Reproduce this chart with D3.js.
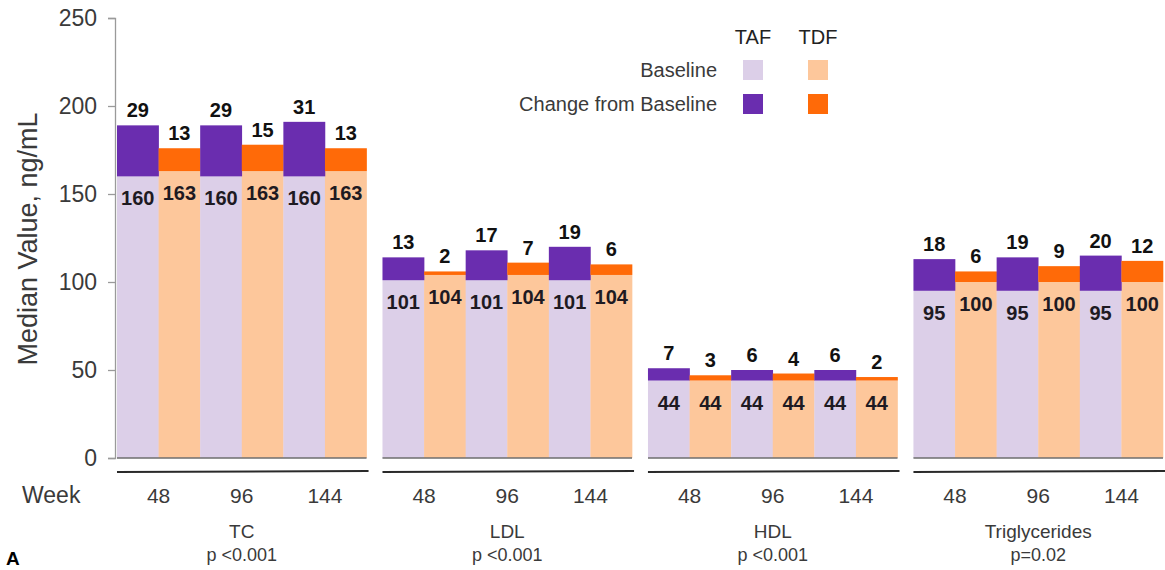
<!DOCTYPE html>
<html>
<head>
<meta charset="utf-8">
<script src="https://cdn.jsdelivr.net/npm/d3@7"></script>
<style>
  html, body { margin: 0; padding: 0; background: #fff; }
  svg { display: block; font-family: "Liberation Sans", Arial, sans-serif; }
</style>
</head>
<body>
<svg id="chart" width="1165" height="570"></svg>
<script>
// Lipid panels, median values at baseline and change from baseline
const panels = ["TC", "LDL", "HDL", "Triglycerides"];
const pValues = ["p <0.001", "p <0.001", "p <0.001", "p=0.02"];
const weeks = ["48", "96", "144"];
const arms = ["TAF", "TDF"];
const tafBaseline = [160, 101, 44, 95];
const tdfBaseline = [163, 104, 44, 100];
const tafChange = [[29, 29, 31], [13, 17, 19], [7, 6, 6], [18, 19, 20]];
const tdfChange = [[13, 15, 13], [2, 7, 6], [3, 4, 2], [6, 9, 12]];
const yTicks = [0, 50, 100, 150, 200, 250];

const colors = {
  TAF: { base: "#dccfe8", change: "#6a2daf" },
  TDF: { base: "#fdc79b", change: "#ff6a08" }
};

const svg = d3.select("#chart");

const y = d3.scaleLinear().domain([0, 250]).range([458, 18]);
const xPanel = d3.scaleBand().domain(panels).range([117, 1163]).paddingInner(0.06);
const xWeek = d3.scaleBand().domain(weeks).range([0, xPanel.bandwidth()]);
const xArm = d3.scaleBand().domain(arms).range([0, xWeek.bandwidth()]);

// flatten into one record per bar
const bars = [];
panels.forEach((p, pi) => {
  weeks.forEach((w, wi) => {
    bars.push({ panel: p, week: w, arm: "TAF", base: tafBaseline[pi], change: tafChange[pi][wi] });
    bars.push({ panel: p, week: w, arm: "TDF", base: tdfBaseline[pi], change: tdfChange[pi][wi] });
  });
});
const barX = d => xPanel(d.panel) + xWeek(d.week) + xArm(d.arm);

// y axis
const yAxis = svg.append("g")
  .attr("transform", "translate(115,0)")
  .call(d3.axisLeft(y).tickValues(yTicks).tickSize(7).tickPadding(11));
yAxis.select(".domain").attr("stroke", "#9a9a9a").attr("stroke-width", 1.3);
yAxis.selectAll(".tick line").attr("stroke", "#9a9a9a").attr("stroke-width", 1.3);
yAxis.selectAll(".tick text")
  .attr("fill", "#3a3a3a")
  .style("font-size", "23px")
  .style("font-family", "'Liberation Sans', Arial, sans-serif");

svg.append("text")
  .attr("transform", "translate(37,239) rotate(-90)")
  .attr("text-anchor", "middle")
  .attr("fill", "#3a3a3a")
  .style("font-size", "27px")
  .text("Median Value, ng/mL");

const g = svg.append("g");

// baseline segments
g.selectAll("rect.base").data(bars).join("rect")
  .attr("class", "base")
  .attr("x", barX)
  .attr("width", xArm.bandwidth() + 0.3)
  .attr("y", d => y(d.base))
  .attr("height", d => y(0) - y(d.base))
  .attr("fill", d => colors[d.arm].base);

// change-from-baseline segments stacked on top
g.selectAll("rect.change").data(bars).join("rect")
  .attr("class", "change")
  .attr("x", barX)
  .attr("width", xArm.bandwidth() + 0.3)
  .attr("y", d => y(d.base + d.change))
  .attr("height", d => y(d.base) - y(d.base + d.change))
  .attr("fill", d => colors[d.arm].change);

// change values above each bar
g.selectAll("text.change").data(bars).join("text")
  .attr("class", "change")
  .attr("x", d => barX(d) + xArm.bandwidth() / 2)
  .attr("y", d => y(d.base + d.change) - 8)
  .attr("text-anchor", "middle")
  .attr("fill", "#111")
  .style("font-size", "20px")
  .style("font-weight", "bold")
  .text(d => d.change);

// baseline values just inside each bar
g.selectAll("text.base").data(bars).join("text")
  .attr("class", "base")
  .attr("x", d => barX(d) + xArm.bandwidth() / 2)
  .attr("y", d => y(d.base) + 29)
  .attr("text-anchor", "middle")
  .attr("fill", "#1e1a22")
  .style("font-size", "20px")
  .style("font-weight", "bold")
  .text(d => d.base);

// per-panel zero line, divider rule and labels
panels.forEach((p, pi) => {
  const x0 = xPanel(p), x1 = x0 + xPanel.bandwidth();
  svg.append("line")
    .attr("x1", x0).attr("x2", x1)
    .attr("y1", y(0)).attr("y2", y(0))
    .attr("stroke", "#6e6e6e").attr("stroke-width", 1.5);
  svg.append("line")
    .attr("x1", x0).attr("x2", x1 + 2)
    .attr("y1", 472).attr("y2", 471)
    .attr("stroke", "#2a2a2a").attr("stroke-width", 2);
  weeks.forEach(w => {
    svg.append("text")
      .attr("x", x0 + xWeek(w) + xWeek.bandwidth() / 2)
      .attr("y", 503)
      .attr("text-anchor", "middle")
      .attr("fill", "#3a3a3a")
      .style("font-size", "21px")
      .text(w);
  });
  const cx = x0 + xPanel.bandwidth() / 2;
  svg.append("text")
    .attr("x", cx).attr("y", 538)
    .attr("text-anchor", "middle")
    .attr("fill", "#3a3a3a")
    .style("font-size", "19px")
    .text(p);
  svg.append("text")
    .attr("x", cx).attr("y", 561)
    .attr("text-anchor", "middle")
    .attr("fill", "#3a3a3a")
    .style("font-size", "18px")
    .text(pValues[pi]);
});

svg.append("text")
  .attr("x", 22).attr("y", 503)
  .attr("fill", "#3a3a3a")
  .style("font-size", "23px")
  .text("Week");

svg.append("text")
  .attr("x", 6).attr("y", 565)
  .attr("fill", "#000")
  .style("font-size", "19px")
  .style("font-weight", "bold")
  .text("A");

// legend
const legendRows = [
  { label: "Baseline", key: "base", y: 60 },
  { label: "Change from Baseline", key: "change", y: 94 }
];
const legendCols = [{ arm: "TAF", x: 753 }, { arm: "TDF", x: 818 }];
const legend = svg.append("g");
legendCols.forEach(c => {
  legend.append("text")
    .attr("x", c.x).attr("y", 44)
    .attr("text-anchor", "middle")
    .attr("fill", "#222")
    .style("font-size", "20px")
    .text(c.arm);
});
legendRows.forEach(r => {
  legend.append("text")
    .attr("x", 717).attr("y", r.y + 17)
    .attr("text-anchor", "end")
    .attr("fill", "#3a3a3a")
    .style("font-size", "20px")
    .text(r.label);
  legendCols.forEach(c => {
    legend.append("rect")
      .attr("x", c.x - 10).attr("y", r.y)
      .attr("width", 20).attr("height", 20)
      .attr("fill", colors[c.arm][r.key]);
  });
});
</script>
</body>
</html>
